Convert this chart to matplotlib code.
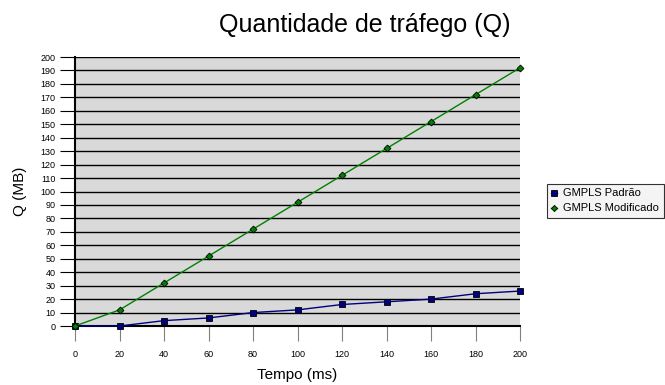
import numpy as np
import matplotlib.pyplot as plt

plt.rcParams["font.family"] = ["Liberation Sans", "DejaVu Sans"]

tempo = [0, 20, 40, 60, 80, 100, 120, 140, 160, 180, 200]
padrao = [0, 0, 4, 6, 10, 12, 16, 18, 20, 24, 26]
modificado = [0, 12, 32, 52, 72, 92, 112, 132, 152, 172, 192]

fig = plt.figure(figsize=(6.65, 3.85), dpi=100)
ax = fig.add_axes([0.1128, 0.1532, 0.6692, 0.6987])
ax.set_facecolor("#d9d9d9")

ax.plot(tempo, padrao, color="#000080", linewidth=1, marker="s", markersize=4.5,
        markerfacecolor="#000080", markeredgecolor="black", markeredgewidth=0.6,
        label="GMPLS Padrão", clip_on=False, zorder=3)
ax.plot(tempo, modificado, color="#008000", linewidth=1, marker="D", markersize=3.5,
        markerfacecolor="#008000", markeredgecolor="black", markeredgewidth=0.6,
        label="GMPLS Modificado", clip_on=False, zorder=3)

ax.set_xlim(0, 200)
ax.set_ylim(0, 200)
ax.set_xticks(range(0, 201, 20))
ax.set_yticks(range(0, 201, 10))
ax.yaxis.grid(True, color="black", linewidth=1)
ax.set_axisbelow(True)
for s in ["top", "right"]:
    ax.spines[s].set_visible(False)
ax.spines["left"].set_linewidth(1.5)
ax.spines["bottom"].set_linewidth(1.5)
ax.tick_params(axis="x", labelsize=6.5, length=11, color="gray", pad=6)
ax.tick_params(axis="y", labelsize=6.5, length=11, color="black", pad=3)

ax.set_title("Quantidade de tráfego (Q)", fontsize=18, x=0.65, pad=18)
ax.set_xlabel("Tempo (ms)", fontsize=11, labelpad=7)
ax.set_ylabel("Q (MB)", fontsize=11, labelpad=10)

leg = ax.legend(loc="center left", bbox_to_anchor=(1.06, 0.465), fontsize=8,
                frameon=True, fancybox=False, edgecolor="black", borderpad=0.4,
                handlelength=0.5, handletextpad=0.6, labelspacing=0.45,
                markerscale=0.9, borderaxespad=0)
leg.get_frame().set_linewidth(0.8)
leg.get_frame().set_facecolor("#f2f2f2")

fig.savefig("out.png", dpi=100)
